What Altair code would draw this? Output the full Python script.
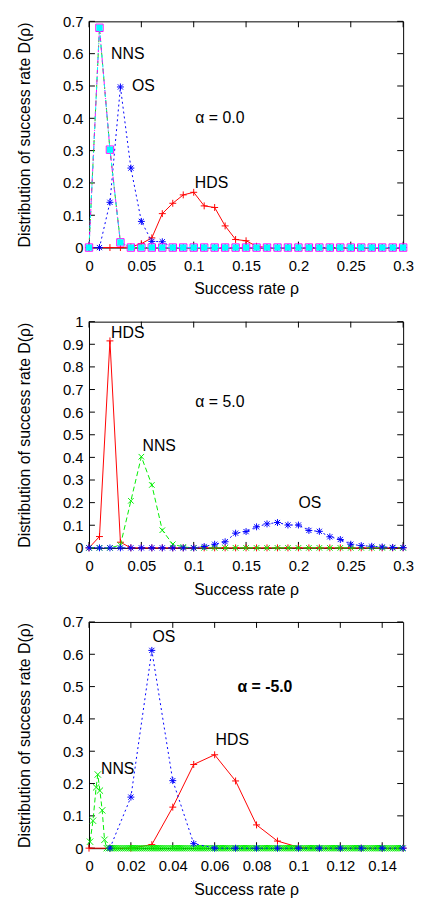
import altair as alt
import pandas as pd
import numpy as np

FONT = "Liberation Sans"
W, H = 318, 229
TICK = 6

RED, GREEN, BLUE, MAGENTA, CYAN = "#ff0000", "#00ee00", "#0000ff", "#ff00ff", "#00ffff"

# custom point shapes (gnuplot style)
PLUS = "M-1,0L1,0M0,-1L0,1"
CROSS = "M-0.8,-0.8L0.8,0.8M-0.8,0.8L0.8,-0.8"
STAR = "M-1,0L1,0M0,-1L0,1M-0.75,-0.75L0.75,0.75M-0.75,0.75L0.75,-0.75"

# ---------------- Panel 1 : alpha = 0.0 ----------------
P1_X = [round(0.01 * i, 2) for i in range(31)]
P1_HDS = [0, 0, 0, 0, 0.002, 0.012, 0.03, 0.105, 0.137, 0.163, 0.171, 0.129, 0.124,
          0.067, 0.025, 0.021, 0.004] + [0] * 14
P1_NNS = [0, 0.68, 0.303, 0.016] + [0] * 27
P1_OS = [0, 0, 0.14, 0.497, 0.246, 0.081, 0.019, 0.018] + [0] * 23
P1_S4 = [0, 0.68, 0.303, 0.016] + [0] * 27
P1_S5 = [0, 0.68, 0.303, 0.016] + [0] * 27
P1_XTICKS = [0, 0.05, 0.1, 0.15, 0.2, 0.25, 0.3]
P1_YTICKS = [0, 0.1, 0.2, 0.3, 0.4, 0.5, 0.6, 0.7]
P1_LABELS = ["NNS", "OS", "α = 0.0", "HDS"]
P1_LX = [0.037, 0.052, 0.125, 0.117]
P1_LY = [0.60, 0.50, 0.40, 0.20]

# ---------------- Panel 2 : alpha = 5.0 ----------------
P2_X = [round(0.01 * i, 2) for i in range(31)]
P2_HDS = [0, 0.05, 0.915, 0.025] + [0] * 27
P2_NNS = [0, 0, 0, 0.012, 0.208, 0.403, 0.278, 0.078, 0.016, 0.004] + [0] * 21
P2_OS = [0] * 11 + [0.006, 0.016, 0.027, 0.065, 0.072, 0.093, 0.106, 0.112, 0.101, 0.101,
                    0.077, 0.073, 0.049, 0.037, 0.016, 0.01, 0.007, 0.004, 0.002, 0.001]
P2_XTICKS = [0, 0.05, 0.1, 0.15, 0.2, 0.25, 0.3]
P2_YTICKS = [0, 0.1, 0.2, 0.3, 0.4, 0.5, 0.6, 0.7, 0.8, 0.9, 1.0]
P2_LABELS = ["HDS", "NNS", "OS", "α = 5.0"]
P2_LX = [0.037, 0.067, 0.211, 0.125]
P2_LY = [0.95, 0.45, 0.20, 0.645]

# ---------------- Panel 3 : alpha = -5.0 ----------------
P3_X = [round(0.01 * i, 2) for i in range(16)]
P3_HDS = [0, 0, 0, 0.011, 0.127, 0.259, 0.289, 0.208, 0.072, 0.022, 0.003, 0, 0, 0, 0, 0]
P3_OS_X = [round(0.01 * i, 2) for i in range(1, 16)]
P3_OS = [0, 0.158, 0.612, 0.209, 0.014, 0, 0, 0, 0, 0, 0, 0, 0, 0, 0]
P3_NNS_PEAK_X = [0.0005, 0.0019, 0.0034, 0.0042, 0.0052, 0.0063, 0.0074]
P3_NNS_PEAK = [0.02, 0.085, 0.188, 0.228, 0.178, 0.117, 0.026]
P3_NNS_ZERO_X = [round(v, 4) for v in np.arange(0.0085, 0.1505, 0.001)]
P3_NNS_X = P3_NNS_PEAK_X + P3_NNS_ZERO_X
P3_NNS = P3_NNS_PEAK + [0] * len(P3_NNS_ZERO_X)
P3_XTICKS = [0, 0.02, 0.04, 0.06, 0.08, 0.1, 0.12, 0.14]
P3_YTICKS = [0, 0.1, 0.2, 0.3, 0.4, 0.5, 0.6, 0.7]
P3_LABELS = ["OS", "α = -5.0", "HDS", "NNS"]
P3_LX = [0.0358, 0.084, 0.0684, 0.0137]
P3_LY = [0.652, 0.497, 0.336, 0.245]
P3_LBOLD = [False, True, False, False]

AXIS_STYLE = dict(labelFont=FONT, labelFontSize=15, labelColor="black",
                  titleFont=FONT, titleFontSize=16, titleFontWeight="normal", titleColor="black",
                  ticks=False, domain=False, grid=False, labelOverlap=False, format="~g")


def panel(series, xdom, ydom, xticks, yticks, labels, lx, ly, bold=None):
    xsc = alt.Scale(domain=xdom, nice=False, zero=False)
    ysc = alt.Scale(domain=ydom, nice=False, zero=False)
    xaxis = alt.Axis(values=xticks, labelFlush=False, labelPadding=11, titlePadding=8, **AXIS_STYLE)
    yaxis = alt.Axis(values=yticks, labelPadding=6, titlePadding=30, **AXIS_STYLE)

    def X(f):
        return alt.X(f, scale=xsc, title="Success rate ρ", axis=xaxis)

    def Y(f):
        return alt.Y(f, scale=ysc, title="Distribution of success rate D(ρ)", axis=yaxis)

    layers = []
    # inward tick marks on all four sides
    xt = pd.DataFrame({"v": xticks})
    yt = pd.DataFrame({"v": yticks})
    layers.append(alt.Chart(xt).mark_rule(color="black", strokeWidth=1).encode(
        x=X("v:Q"), y=alt.value(H), y2=alt.value(H - TICK)))
    layers.append(alt.Chart(xt).mark_rule(color="black", strokeWidth=1).encode(
        x=X("v:Q"), y=alt.value(0), y2=alt.value(TICK)))
    layers.append(alt.Chart(yt).mark_rule(color="black", strokeWidth=1).encode(
        y=Y("v:Q"), x=alt.value(0), x2=alt.value(TICK)))
    layers.append(alt.Chart(yt).mark_rule(color="black", strokeWidth=1).encode(
        y=Y("v:Q"), x=alt.value(W - TICK), x2=alt.value(W)))

    for s in series:
        xs, ys, color, dash, shape = s[:5]
        opts = s[5] if len(s) > 5 else {}
        df = pd.DataFrame({"x": xs, "y": ys})
        line_kwargs = dict(color=color, strokeWidth=1)
        if dash:
            line_kwargs["strokeDash"] = dash
        layers.append(alt.Chart(df).mark_line(**line_kwargs).encode(x=X("x:Q"), y=Y("y:Q")))
        size = opts.get("size", 49)
        if opts.get("filled"):
            pts = alt.Chart(df).mark_point(shape=shape, filled=True, fill=color, size=size,
                                           opacity=1, strokeWidth=0)
        else:
            pts = alt.Chart(df).mark_point(shape=shape, filled=False, color=color, size=size,
                                           opacity=1, strokeWidth=1)
        layers.append(pts.encode(x=X("x:Q"), y=Y("y:Q")))

    if bold is None:
        bold = [False] * len(labels)
    ldf = pd.DataFrame({"t": labels, "x": lx, "y": ly, "b": bold})
    for w in (False, True):
        sub = ldf[ldf["b"] == w]
        if len(sub):
            layers.append(alt.Chart(sub).mark_text(
                font=FONT, fontSize=16, color="black", align="center", baseline="middle",
                fontWeight="bold" if w else "normal").encode(
                x=X("x:Q"), y=Y("y:Q"), text="t:N"))
    return alt.layer(*layers).properties(width=W, height=H)


p1 = panel([
    (P1_X, P1_HDS, RED, None, PLUS),
    (P1_X, P1_NNS, GREEN, [5, 3], CROSS),
    (P1_X, P1_OS, BLUE, [2, 3], STAR),
    (P1_X, P1_S4, MAGENTA, [6, 2, 1, 2], "square", {"size": 56}),
    (P1_X, P1_S5, CYAN, [3, 3, 1, 3], "square", {"size": 40, "filled": True}),
], [0, 0.3], [0, 0.7], P1_XTICKS, P1_YTICKS, P1_LABELS, P1_LX, P1_LY)

p2 = panel([
    (P2_X, P2_HDS, RED, None, PLUS),
    (P2_X, P2_NNS, GREEN, [5, 3], CROSS),
    (P2_X, P2_OS, BLUE, [2, 3], STAR),
], [0, 0.3], [0, 1.0], P2_XTICKS, P2_YTICKS, P2_LABELS, P2_LX, P2_LY)

p3 = panel([
    (P3_X, P3_HDS, RED, None, PLUS),
    (P3_NNS_X, P3_NNS, GREEN, [5, 3], CROSS, {"size": 64}),
    (P3_OS_X, P3_OS, BLUE, [2, 3], STAR),
], [0, 0.15], [0, 0.7], P3_XTICKS, P3_YTICKS, P3_LABELS, P3_LX, P3_LY, P3_LBOLD)

chart = alt.vconcat(p1, p2, p3, spacing=16).properties(
    background="white",
    padding={"left": 8, "top": 0, "right": 0, "bottom": 0}
).configure_view(stroke="black", strokeWidth=1)

chart.save("out.html", embed_options={"renderer": "svg", "actions": False})
